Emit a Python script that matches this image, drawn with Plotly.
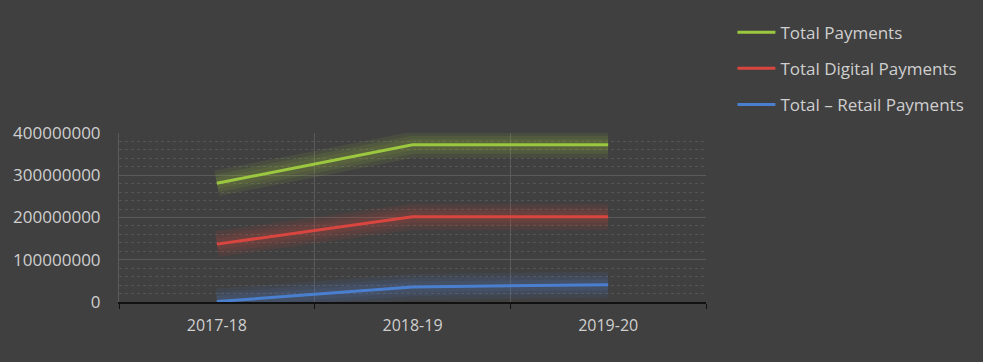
import plotly.graph_objects as go

categories = ["2017-18", "2018-19", "2019-20"]
total_payments = [281000000, 372000000, 372000000]
total_digital = [137000000, 202000000, 202000000]
total_retail = [1000000, 35500000, 41000000]
series_names = ["Total Payments", "Total Digital Payments", "Total \u2013 Retail Payments"]
y_ticks = [0, 100000000, 200000000, 300000000, 400000000]

colors = ["#9BC83F", "#D9453F", "#4A7FD0"]
glow = ["rgba(155,200,63,0.10)", "rgba(217,69,63,0.10)", "rgba(74,127,208,0.10)"]

fig = go.Figure()
all_series = [total_payments, total_digital, total_retail]
for vals, g in zip(all_series, glow):
    for w in (26, 18, 11):
        fig.add_trace(go.Scatter(x=categories, y=vals, mode="lines",
                                 line=dict(color=g, width=w), showlegend=False,
                                 hoverinfo="skip"))
for i, (vals, name, c) in enumerate(zip(all_series, series_names, colors)):
    fig.add_trace(go.Scatter(x=categories, y=vals, mode="lines", name=name,
                             line=dict(color=c, width=3), legendgroup=f"g{i}"))

fig.update_layout(
    width=983, height=362,
    paper_bgcolor="#404040", plot_bgcolor="#404040",
    margin=dict(l=119, r=277, t=133, b=60),
    font=dict(family="Open Sans", color="#CFCFCF", size=17),
    legend=dict(x=1.045, y=1.70, xanchor="left", yanchor="top",
                font=dict(size=17, color="#CFCFCF"), tracegroupgap=11,
                bgcolor="rgba(0,0,0,0)", itemwidth=38),
    showlegend=True,
)
fig.update_xaxes(type="category", range=[-0.5, 2.5], tickson="boundaries",
                 ticks="outside", ticklen=5, tickcolor="#111111",
                 showgrid=True, gridcolor="#5A5A5A", gridwidth=1,
                 showline=True, linecolor="#111111", linewidth=2,
                 ticklabelstandoff=8,
                 tickfont=dict(size=16, color="#CFCFCF"))
fig.update_yaxes(range=[0, 400000000], tickvals=y_ticks, tickformat="d",
                 showgrid=True, gridcolor="#5A5A5A", gridwidth=1,
                 minor=dict(dtick=20000000, showgrid=True, gridcolor="#555555",
                            griddash="dot", gridwidth=1),
                 showline=True, linecolor="#5A5A5A", linewidth=1,
                 zeroline=False, ticks="", ticklabelstandoff=14,
                 tickfont=dict(size=17, color="#CFCFCF"))

fig.write_html("out.html")
